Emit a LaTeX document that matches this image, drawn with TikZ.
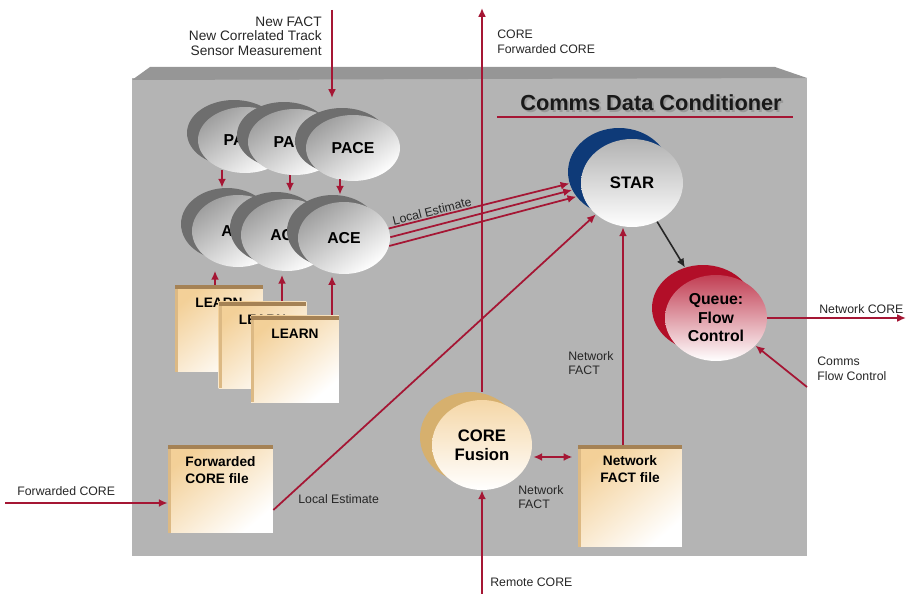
\documentclass[tikz,border=0pt]{standalone}
\usepackage{fontspec}
\setmainfont{Liberation Sans}
\usetikzlibrary{shapes.geometric,arrows.meta,calc}

\definecolor{boxfront}{RGB}{180,180,180}
\definecolor{boxtop}{RGB}{150,150,150}
\definecolor{flowred}{RGB}{165,22,52}
\definecolor{pacedark}{RGB}{110,110,110}
\definecolor{stardark}{RGB}{14,58,120}
\definecolor{queuedark}{RGB}{178,14,40}
\definecolor{fusiondark}{RGB}{214,176,110}
\definecolor{filetan}{RGB}{243,208,152}
\definecolor{fileedge}{RGB}{165,130,85}

\tikzset{
  rarr/.style={draw=flowred, line width=1pt, -{Latex[length=5pt,width=4.5pt]}},
  barr/.style={draw=black!85, line width=0.9pt, -{Latex[length=5pt,width=4.5pt]}},
  lbl/.style={inner sep=0pt, text=black!85, font=\fontsize{7}{8.3}\selectfont},
  oval/.style={ellipse, inner sep=0pt, align=center},
  paceback/.style={oval, fill=pacedark, minimum width=1.88cm, minimum height=1.32cm},
  pacefront/.style={oval, top color=black!38, bottom color=white, shading angle=35,
    minimum width=1.88cm, minimum height=1.32cm, font=\bfseries\fontsize{9}{10}\selectfont},
  aceback/.style={paceback, minimum width=1.84cm, minimum height=1.44cm},
  acefront/.style={pacefront, minimum width=1.84cm, minimum height=1.44cm},
  bigback/.style={oval, minimum width=2.04cm, minimum height=1.76cm},
  bigfront/.style={oval, bottom color=white, shading angle=35,
    minimum width=2.04cm, minimum height=1.76cm, font=\bfseries\fontsize{9.5}{11}\selectfont},
  filebox/.style={rectangle, inner sep=0pt, top color=filetan, bottom color=white,
    shading angle=40, font=\bfseries\fontsize{7.8}{9.4}\selectfont,
    path picture={
      \fill[filetan!70!fileedge] ([yshift=-0.08cm]path picture bounding box.north west)
        rectangle ([xshift=0.06cm]path picture bounding box.south west);
      \fill[fileedge] (path picture bounding box.north west)
        rectangle ([yshift=-0.08cm]path picture bounding box.north east);}},
  learnbox/.style={filebox, minimum width=1.76cm, text height=0.45cm, text depth=1.29cm},
}

\begin{document}
\begin{tikzpicture}[x=0.02cm, y=-0.02cm]
\useasboundingbox (0,0) rectangle (909,594);

% enclosing block with bevelled top
\fill[boxfront] (132,78) rectangle (807,556);
\fill[boxtop] (132,80) -- (150,67) -- (775,67) -- (807,78) -- cycle;

% heading with shadow and rule
\node[inner sep=0pt, text=black!40, font=\bfseries\fontsize{12.4}{14}\selectfont] (titleshadow) at (653,105) {Comms Data Conditioner};
\node[inner sep=0pt, text=black!90, font=\bfseries\fontsize{12.4}{14}\selectfont] (title) at (651,103) {Comms Data Conditioner};
\draw[flowred, line width=1.2pt] (497,117) -- (793,117);

% PACE stack
\node[paceback] (pace1b) at (234,133) {};
\node[pacefront] (pace1) at (245,140) {PACE};
\node[paceback] (pace2b) at (284,135) {};
\node[pacefront] (pace2) at (295,142) {PACE};
\node[paceback] (pace3b) at (342,141) {};
\node[pacefront] (pace3) at (353,148) {PACE};

% ACE stack
\node[aceback] (ace1b) at (227,224) {};
\node[acefront] (ace1) at (238,231) {ACE};
\node[aceback] (ace2b) at (276,228) {};
\node[acefront] (ace2) at (287,235) {ACE};
\node[aceback] (ace3b) at (333,231) {};
\node[acefront] (ace3) at (344,238) {ACE};

% LEARN files
\node[learnbox] (learn1) at (219,328.5) {LEARN};
\node[learnbox] (learn2) at (262.5,345) {LEARN};
\node[learnbox] (learn3) at (295,359) {LEARN};

% other files
\node[filebox, minimum width=2.1cm, align=left, text height=0.76cm, text depth=1.0cm] (fcf) at (220.5,489) {Forwarded\\CORE file};
\node[filebox, minimum width=2.08cm, align=center, text height=0.74cm, text depth=1.3cm] (nff) at (630,496) {Network\\FACT file};

% STAR
\node[bigback, fill=stardark] (starb) at (619,172) {};
\node[bigfront, top color=black!30] (star) at (632,183) {STAR};

% Queue
\node[bigback, fill=queuedark, minimum height=1.72cm] (queueb) at (703,308) {};
\node[bigfront, top color=queuedark!80, minimum height=1.72cm, font=\bfseries\fontsize{9}{10.5}\selectfont] (queue) at (716,318) {Queue:\\Flow\\Control};

% CORE Fusion
\node[bigback, fill=fusiondark, minimum width=2cm, minimum height=1.8cm] (cfb) at (470,437) {};
\node[bigfront, top color=filetan!85, minimum width=2cm, minimum height=1.8cm] (cf) at (482,445) {CORE\\Fusion};

% free ends
\coordinate (newin) at (332,10);
\coordinate (newend) at (332,98);
\coordinate (coreout) at (482,8);
\coordinate (remin) at (482,594);
\coordinate (fwdin) at (5,503);
\coordinate (ncout) at (906,318);
\coordinate (cfcin) at (807,387);

% inputs from above
\draw[rarr] (newin) -- (newend);
\draw[rarr] (cf.north |- cfb.north) -- (coreout);

% PACE -> ACE
\coordinate (p1) at ($(pace1.south)+(-23,-3)$);
\coordinate (p2) at ($(pace2.south)+(-5,0)$);
\coordinate (p3) at ($(pace3.south)+(-13,-2)$);
\draw[rarr] (p1) -- (p1 |- ace1b.north);
\draw[rarr] (p2) -- (p2 |- ace2b.north);
\draw[rarr] (p3) -- (p3 |- ace3b.north);

% LEARN -> ACE
\coordinate (l1) at ($(learn1.north)+(-4,0)$);
\coordinate (l2) at ($(learn2.north)+(19.5,0)$);
\coordinate (l3) at ($(learn3.north)+(37,0)$);
\draw[rarr, shorten >=2pt] (l1) -- (l1 |- ace1.south);
\draw[rarr, shorten >=2pt] (l2) -- (l2 |- ace2.south);
\draw[rarr, shorten >=1pt] (l3) -- (l3 |- ace3.south);

% local estimates into STAR
\draw[rarr] (ace3.12) -- (starb.193);
\draw[rarr] (ace3.1) -- (starb.201);
\draw[rarr] (ace3.-10) -- (starb.210);
\node[lbl, rotate=14] (lest1) at (432,211) {Local Estimate};

\draw[rarr] ($(fcf.east)+(0,21)$) -- (star.221);
\draw[rarr] (fwdin) -- (fwdin -| fcf.west);

% network FACT into STAR
\coordinate (nfftop) at ($(nff.north)+(-7,0)$);
\draw[rarr] (nfftop) -- (nfftop |- star.south);

% CORE Fusion <-> Network FACT file
\coordinate (cfr) at ($(cf.east)+(1,12)$);
\draw[rarr, {Latex[length=5pt,width=4.5pt]}-{Latex[length=5pt,width=4.5pt]}, shorten >=3pt] (cfr) -- (cfr -| nff.west);
\draw[rarr] (remin) -- (cf.south);

% STAR -> Queue and outputs
\draw[barr] (star.-57) -- (queueb.114);
\draw[rarr] (queue.east) -- (ncout);
\draw[rarr] (cfcin) -- (queue.-35);

% labels
\node[lbl, align=right, anchor=north east, font=\fontsize{7.8}{8}\selectfont] (newlbl) at (322,17) {New FACT\\New Correlated Track\\Sensor Measurement};
\node[lbl, align=left, anchor=north west] (corelbl) at (497,30) {CORE\\Forwarded CORE};
\node[lbl, anchor=west] (nclbl) at (819,309) {Network CORE};
\node[lbl, align=left, anchor=north west] (cfclbl) at (817,357) {Comms\\Flow Control};
\node[lbl, align=left, anchor=north west] (nf1lbl) at (568,351) {Network\\FACT};
\node[lbl, align=left, anchor=north west] (nf2lbl) at (518,485) {Network\\FACT};
\node[lbl, anchor=west] (remlbl) at (490,582) {Remote CORE};
\node[lbl, anchor=west] (fwdlbl) at (17,491) {Forwarded CORE};
\node[lbl, anchor=west] (lest2) at (298,499) {Local Estimate};
\end{tikzpicture}
\end{document}
